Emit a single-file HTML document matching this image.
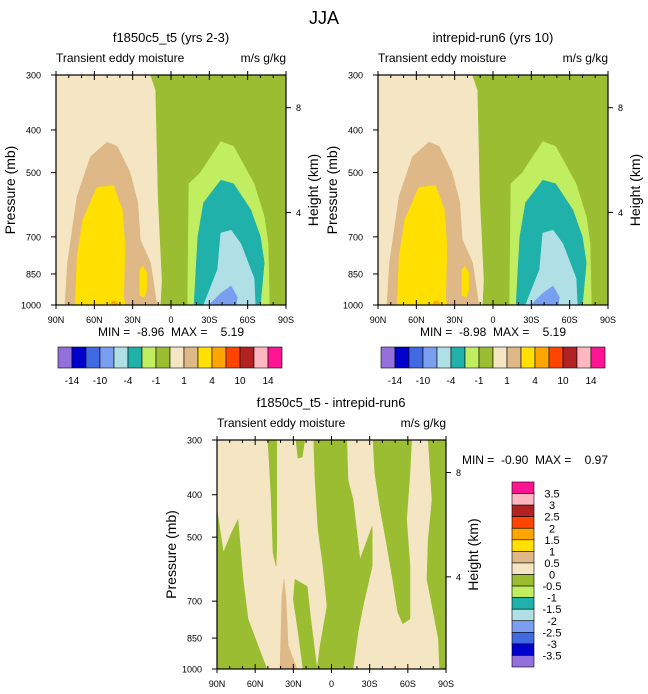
<!DOCTYPE html>
<html><head><meta charset="utf-8"><style>
body{margin:0;background:#fff;}
svg{display:block;font-family:"Liberation Sans",sans-serif;}
text{white-space:pre;}
</style></head><body>
<svg id="c" width="648" height="694" viewBox="0 0 648 694" xmlns="http://www.w3.org/2000/svg" xml:space="preserve">
<text x="324" y="24" font-size="18" text-anchor="middle">JJA</text>
</svg>
<script>
// ---- data (lat in degrees N positive, pressure in mb) ----
const latTicks = [90, 60, 30, 0, -30, -60, -90];
const latLabels = ["90N", "60N", "30N", "0", "30S", "60S", "90S"];
const presTicks = [300, 400, 500, 700, 850, 1000];
const heightTicks = [8, 4];
const heightPres = [356, 616];
const fullColors = ["#9370DB","#0000CD","#4169E1","#7B9FF0","#B0E0E6","#20B2AA","#C0EE60","#9ABD32","#F5E6C3","#DEB887","#FFE000","#FFA500","#FF4500","#B22222","#FFB6C1","#FF1493"];
const fullLabels = ["-14","-10","-4","-1","1","4","10","14"];
const diffLabels = ["3.5","3","2.5","2","1.5","1","0.5","0","-0.5","-1","-1.5","-2","-2.5","-3","-3.5"];
// Field regions for model panels
const greenLat = [16,12,10,7,8,-90,-90];
const greenP = [300,325,575,880,1000,1000,300];
const tanLat = [83,81,73.5,63,50,42,32,26,24,16,12,11];
const tanP = [1000,802,566,460,426,436,500,585,710,802,960,1000];
const yelLat = [75,73.5,69,58,45,38,36,37,36];
const yelP = [1000,776,640,540,535,608,738,960,1000];
const yel2Lat = [24.5,24.5,22,19,19,21];
const yel2P = [950,833,815,843,925,960];
const orgLat = [47.5,46,43,41];
const orgP = [1000,980,980,1000];
const lgLat = [-13,-14,-23,-39,-49,-65,-73,-76,-77];
const lgP = [1000,530,500,425,436,530,630,725,1000];
const tealLat = [-18,-21,-25.5,-39,-49,-62.5,-70,-73,-70];
const tealP = [1000,700,585,520,530,608,700,802,1000];
const lbLat = [-25.5,-36.5,-39,-47,-54.6,-65,-66];
const lbP = [1000,830,686,676,725,870,1000];
const blLat = [-29.5,-39,-47,-52,-51];
const blP = [1000,940,905,960,1000];
// Difference panel regions
const dA_lat=[90,85,78.5,73.5,69.5,65.6,56,50.7,90], dA_p=[433,542,488,456,624,769,913,1000,1000];
const dB_lat=[50,43,43,43.6,46,47.5], dB_p=[300,300,524,582,542,404];
const dC_lat=[28,21,23,26.3], dC_p=[300,300,328,330];
const dD_lat=[28.7,19,17,11.4,22.4,26.3,30], dD_p=[624,648,741,1000,1000,820,693];
const dE_lat=[14,-12,-13,-17,-22.4,-26.3,-32,-32,-24.8,-21,-17,11.4,9,3.5,6.7,10.6,13], dE_p=[300,300,370,411,562,524,472,582,718,820,1000,1000,885,718,582,480,370];
const dF_lat=[-32.6,-63,-61.7,-59,-61.7,-61.7,-56,-52,-48,-43.6,-38,-34], dF_p=[300,300,357,456,582,769,788,741,624,524,426,357];
const dG_lat=[-76,-90,-90,-85,-84,-80,-75,-76,-79], dG_p=[300,300,1000,1000,854,741,624,506,411];
const dT_lat=[40.5,39,37.3,35.8,34,27], dT_p=[1000,683,624,693,885,1000];

const NS="http://www.w3.org/2000/svg";
const svg=document.getElementById('c');
function mk(tag,attrs,parent){const e=document.createElementNS(NS,tag);for(const k in attrs)e.setAttribute(k,attrs[k]);(parent||svg).appendChild(e);return e;}
function txt(x,y,s,size,anchor,parent,rot){const e=mk('text',{x:x,y:y,'font-size':size,'text-anchor':anchor||'start'},parent);if(rot)e.setAttribute('transform','rotate(-90 '+x+' '+y+')');e.textContent=s;return e;}

function panel(x0,y0,w,h,title,cx,regions,bg,name){
  const g=mk('g',{});
  
  
  const X=lat=>x0+(90-lat)/180*w;
  const Y=p=>y0+Math.log(p/300)/Math.log(1000/300)*h;
  const bgr=mk('rect',{x:x0,y:y0,width:w,height:h,fill:bg},g);
  
  
  regions.forEach((r,i)=>{
    const pts=r[1].map((la,j)=>X(la).toFixed(1)+','+Y(r[2][j]).toFixed(1)).join(' ');
    const poly=mk('polygon',{points:pts,fill:r[0],'stroke':r[0],'stroke-width':0.5,'stroke-linejoin':'round'},g);
    
    
  });
  mk('rect',{x:x0,y:y0,width:w,height:h,fill:'none',stroke:'#000','stroke-width':1.2},g);
  const t=txt(cx,y0-33,title,13,'middle',g);
  
  
  const st=txt(x0,y0-13,'Transient eddy moisture',12,'start',g);
  
  
  const un=txt(x0+w,y0-13,'m/s g/kg',12,'end',g);
  
  
  for(let la=90;la>=-90;la-=10){
    const major=(la%30===0);const L=major?5:3;
    mk('line',{x1:X(la),y1:y0,x2:X(la),y2:y0+L,stroke:'#000'},g);
    mk('line',{x1:X(la),y1:y0+h,x2:X(la),y2:y0+h-L,stroke:'#000'},g);
  }
  latTicks.forEach((la,i)=>{
    mk('line',{x1:X(la),y1:y0,x2:X(la),y2:y0-4,stroke:'#000'},g);
    mk('line',{x1:X(la),y1:y0+h,x2:X(la),y2:y0+h+4,stroke:'#000'},g);
    const l=txt(X(la),y0+h+18,latLabels[i],9,'middle',g);
    
    
  });
  presTicks.forEach(p=>{
    mk('line',{x1:x0-5,y1:Y(p),x2:x0,y2:Y(p),stroke:'#000'},g);
    const l=txt(x0-15,Y(p)+3.5,String(p),9,'end',g);
    
    
  });
  heightTicks.forEach((hh,i)=>{
    const y=Y(heightPres[i]);
    mk('line',{x1:x0+w,y1:y,x2:x0+w+5,y2:y,stroke:'#000'},g);
    const l=txt(x0+w+10,y+3.5,String(hh),9,'start',g);
    
    
  });
  const yl=txt(x0-41,y0+h/2,'Pressure (mb)',14,'middle',g,true);
  
  
  const hl=txt(x0+w+32,y0+h/2,'Height (km)',14,'middle',g,true);
  
  
  return {X,Y};
}
const C=fullColors;
const modelRegions=[[C[7],greenLat,greenP],[C[9],tanLat,tanP],[C[10],yelLat,yelP],[C[10],yel2Lat,yel2P],[C[11],orgLat,orgP],[C[6],lgLat,lgP],[C[5],tealLat,tealP],[C[4],lbLat,lbP],[C[3],blLat,blP]];
const diffRegions=[[C[7],dA_lat,dA_p],[C[7],dB_lat,dB_p],[C[7],dC_lat,dC_p],[C[7],dD_lat,dD_p],[C[7],dE_lat,dE_p],[C[7],dF_lat,dF_p],[C[7],dG_lat,dG_p],[C[9],dT_lat,dT_p]];

panel(56,75,230,230,'f1850c5_t5 (yrs 2-3)',171,modelRegions,C[8],'panel-f1850c5');
panel(378,75,230,230,'intrepid-run6 (yrs 10)',493,modelRegions,C[8],'panel-intrepid');
panel(217,440,229,229,'f1850c5_t5 - intrepid-run6',331,diffRegions,C[8],'panel-difference');

function minmax(x,y,s,name){const t=txt(x,y,s,12,'middle');}
minmax(171,336,'MIN =  -8.96  MAX =    5.19','minmax-left');
minmax(493,336,'MIN =  -8.98  MAX =    5.19','minmax-right');
minmax(535,464,'MIN =  -0.90  MAX =    0.97','minmax-diff');

function hbar(x0,name){
  const g=mk('g',{});
  
  
  const bw=14;
  fullColors.forEach((c,i)=>{const r=mk('rect',{x:x0+i*bw,y:347,width:bw,height:21,fill:c,stroke:'#000','stroke-width':0.6},g);
    });
  fullLabels.forEach((l,i)=>{const t=txt(x0+(2*i+1)*bw,384,l,10,'middle',g);
    });
}
hbar(58,'colorbar-left');
hbar(381,'colorbar-right');

(function(){
  const g=mk('g',{});
  
  
  const bh=185/16, y0=482, x0=512;
  fullColors.slice().reverse().forEach((c,i)=>{const r=mk('rect',{x:x0,y:y0+i*bh,width:22,height:bh,fill:c,stroke:'#000','stroke-width':0.6},g);
    });
  diffLabels.forEach((l,i)=>{const t=txt(552,y0+(i+1)*bh+4,l,11,'middle',g);
    });
})();
</script>
</body></html>
